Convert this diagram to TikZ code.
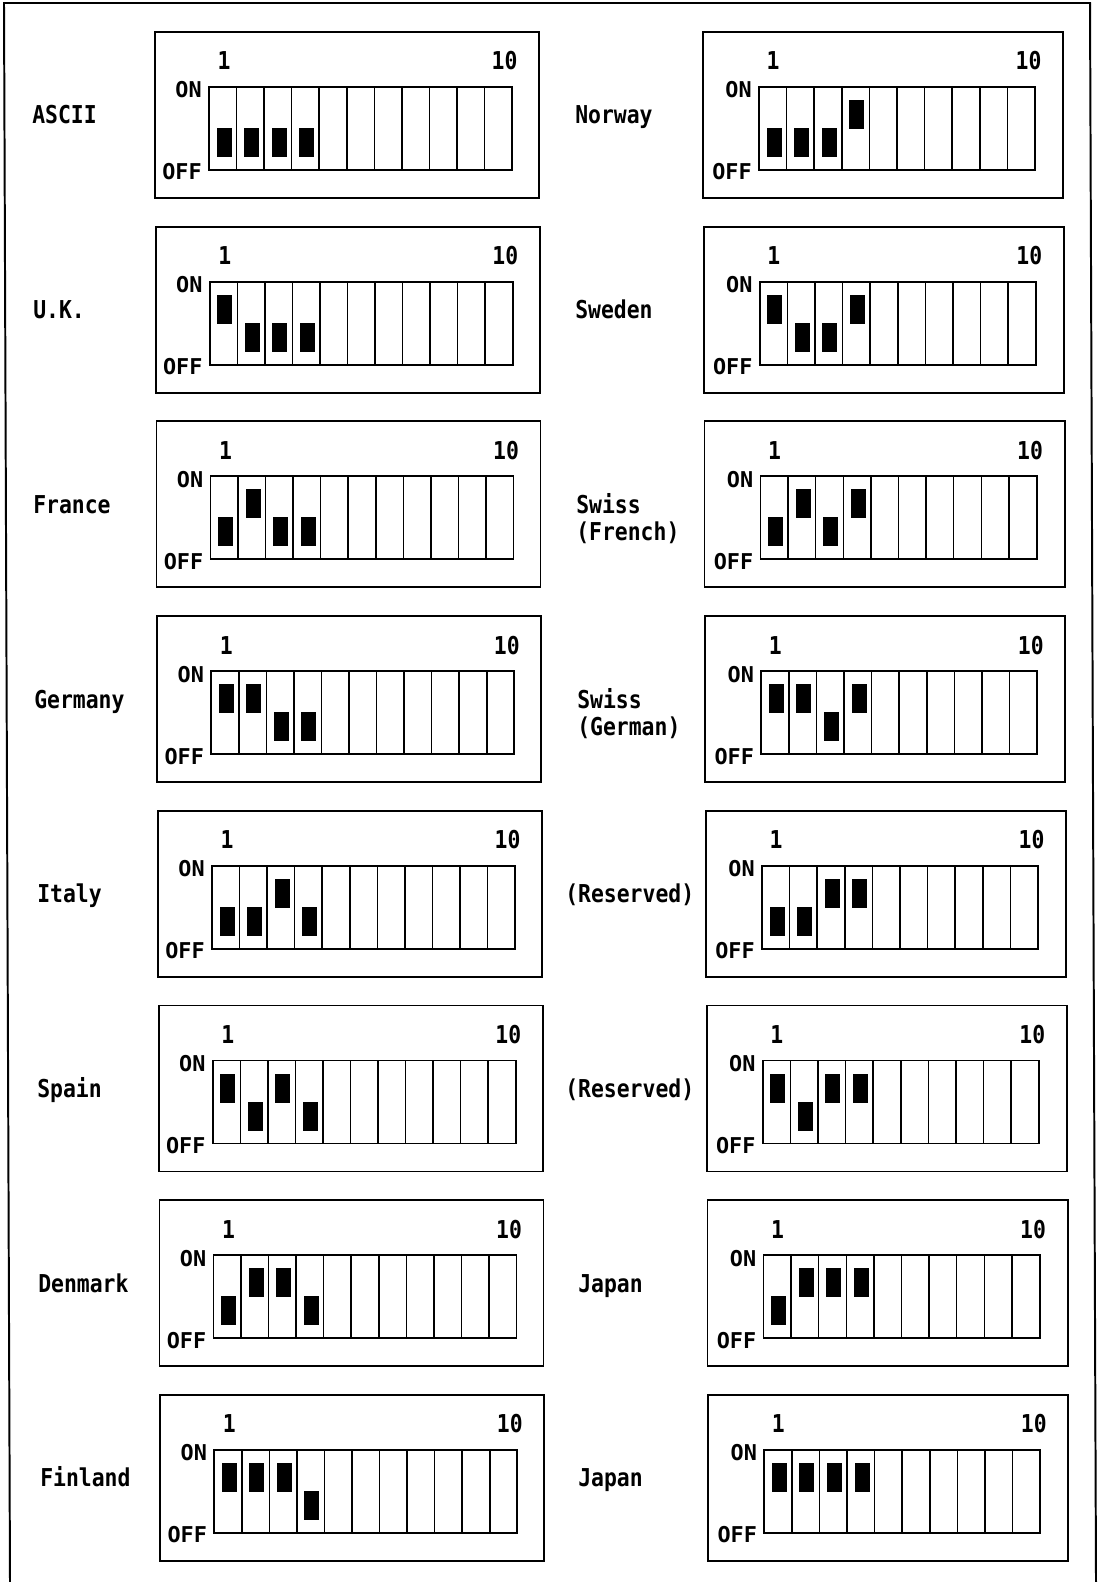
\documentclass[tikz,border=0pt]{standalone}
\usepackage{fontspec}
\newfontfamily\labfont[FakeStretch=0.87]{DejaVu Sans Mono}
\newfontfamily\onofffont{DejaVu Sans Mono}

\begin{document}
\begin{tikzpicture}[x=0.025cm,y=-0.025cm,
  box/.style={line width=1.4pt},
  cell/.style={line width=1.1pt},
  knob/.style={fill=black},
  lab/.style={font=\labfont\bfseries\fontsize{17.5}{20}\selectfont,inner sep=0pt,anchor=base west},
  num/.style={font=\labfont\bfseries\fontsize{17.5}{20}\selectfont,inner sep=0pt},
  onoff/.style={font=\onofffont\bfseries\fontsize{15.5}{18}\selectfont,inner sep=0pt,anchor=east}]
\useasboundingbox (0,0) rectangle (1101,1582);
% outer frame, open at the bottom
\draw[box] (10,1582) -- (4,3) -- (1090,3) -- (1096,1582);

% left column: 11 switch cells
\foreach \lab/\lx/\a/\b/\c/\d [count=\i from 0] in {
    ASCII/32/0/0/0/0, U.K./33/1/0/0/0, France/33/0/1/0/0, Germany/34/1/1/0/0,
    Italy/37/0/0/1/0, Spain/37/1/0/1/0, Denmark/38/0/1/1/0, Finland/40/1/1/1/0}{
  \node[lab] (lab-l\i) at (\lx,124+194.7*\i) {\lab};
  \begin{scope}[shift={(155+0.75*\i,32+194.7*\i)}]
    \draw[box] (0,0) rectangle (384,166);
    \draw[box] (54,55) rectangle (357,138);
    \foreach \k in {1,...,10} \draw[cell] (54+27.55*\k,55) -- (54+27.55*\k,138);
    \foreach \s [count=\k from 0] in {\a,\b,\c,\d}
      \fill[knob] (61.5+27.55*\k,96-28*\s) rectangle ++(15,29);
    \node[num] (first-l\i) at (69,29) {1};
    \node[num] (last-l\i) at (349.5,29) {10};
    \node[onoff] (on-l\i) at (47,58) {ON};
    \node[onoff] (off-l\i) at (47,140) {OFF};
  \end{scope}
}

% right column: 10 switch cells
\foreach \lab/\sub/\lx/\a/\b/\c/\d [count=\i from 0] in {
    Norway/{}/575/0/0/0/1, Sweden/{}/575/1/0/0/1,
    Swiss/{(French)}/576/0/1/0/1, Swiss/{(German)}/577/1/1/0/1,
    {(Reserved)}/{}/565/0/0/1/1, {(Reserved)}/{}/565/1/0/1/1,
    Japan/{}/578/0/1/1/1, Japan/{}/578/1/1/1/1}{
  \node[lab] (lab-r\i) at (\lx,124+194.7*\i) {\lab};
  \node[lab] (sub-r\i) at (\lx,151+194.7*\i) {\sub};
  \begin{scope}[shift={(703+0.75*\i,32+194.7*\i)}]
    \draw[box] (0,0) rectangle (360,166);
    \draw[box] (56,55) rectangle (332,138);
    \foreach \k in {1,...,9} \draw[cell] (56+27.6*\k,55) -- (56+27.6*\k,138);
    \foreach \s [count=\k from 0] in {\a,\b,\c,\d}
      \fill[knob] (63.5+27.6*\k,96-28*\s) rectangle ++(15,29);
    \node[num] (first-r\i) at (70,29) {1};
    \node[num] (last-r\i) at (325.5,29) {10};
    \node[onoff] (on-r\i) at (49,58) {ON};
    \node[onoff] (off-r\i) at (49,140) {OFF};
  \end{scope}
}
\end{tikzpicture}
\end{document}
